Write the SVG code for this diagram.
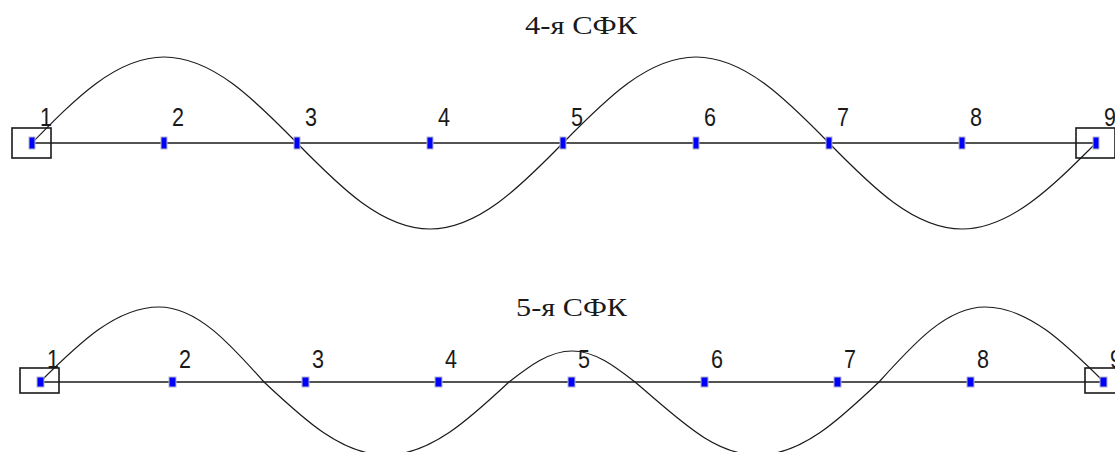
<svg xmlns="http://www.w3.org/2000/svg" width="1115" height="452" viewBox="0 0 1115 452">
<style>
.axis{stroke:#1a1a1a;stroke-width:1.7;fill:none}
.wave{stroke:#1a1a1a;stroke-width:1.2;fill:none}
.box{stroke:#1a1a1a;stroke-width:1.6;fill:none}
.mk{fill:#0000ff;stroke:#b4b4c8;stroke-width:1}
.num{font-family:"Liberation Sans",Arial,sans-serif;font-size:26px;fill:#1a1a1a}
.title{font-family:"Liberation Serif","Times New Roman",serif;font-size:26px;fill:#1a1a1a}
</style>
<rect width="1115" height="452" fill="#ffffff"/>
<text class="title" x="525" y="34" textLength="112" lengthAdjust="spacingAndGlyphs">4-я СФК</text>
<text class="title" x="516" y="316" textLength="111" lengthAdjust="spacingAndGlyphs">5-я СФК</text>
<g id="connectors">
<line class="axis" x1="32" y1="143" x2="1096" y2="143"/>
<line class="axis" x1="40" y1="382" x2="1104" y2="382"/>
<path class="wave" d="M32,143 C75,99 116,57 164,57 C212,57 254,99 297,143 C340,187 382,229 430,229 C478,229 520,187 563,143 C606,99 648,57 696,57 C744,57 786,99 829,143 C872,187 914,229 962,229 C1010,229 1052,187 1096,143"/>
<path class="wave" d="M40,382 C78.8,343.6 115.9,307 159,307 C197,307 229.8,343.6 264,382 C303.8,419.4 341.8,455 386,455 C430.5,455 468.9,419.4 509,382 C529.5,366.1 549.2,351 572,351 C594.8,351 614.5,366.1 635,382 C679.5,419.4 713.5,455 758,455 C801.8,455 839.5,419.4 879,382 C913.6,343.6 946.6,307 985,307 C1028.1,307 1065.2,343.6 1104,382"/>
</g>
<g id="mode4">
<g id="a1"><rect class="box" x="12" y="128" width="39" height="30"/><rect class="mk" x="29" y="137" width="6" height="12"/><text class="num" x="40" y="126" textLength="12" lengthAdjust="spacingAndGlyphs">1</text></g>
<g id="a2"><rect class="mk" x="161" y="137" width="6" height="12"/><text class="num" x="172" y="126" textLength="12" lengthAdjust="spacingAndGlyphs">2</text></g>
<g id="a3"><rect class="mk" x="294" y="137" width="6" height="12"/><text class="num" x="305" y="126" textLength="12" lengthAdjust="spacingAndGlyphs">3</text></g>
<g id="a4"><rect class="mk" x="427" y="137" width="6" height="12"/><text class="num" x="438" y="126" textLength="12" lengthAdjust="spacingAndGlyphs">4</text></g>
<g id="a5"><rect class="mk" x="560" y="137" width="6" height="12"/><text class="num" x="571" y="126" textLength="12" lengthAdjust="spacingAndGlyphs">5</text></g>
<g id="a6"><rect class="mk" x="693" y="137" width="6" height="12"/><text class="num" x="704" y="126" textLength="12" lengthAdjust="spacingAndGlyphs">6</text></g>
<g id="a7"><rect class="mk" x="826" y="137" width="6" height="12"/><text class="num" x="837" y="126" textLength="12" lengthAdjust="spacingAndGlyphs">7</text></g>
<g id="a8"><rect class="mk" x="959" y="137" width="6" height="12"/><text class="num" x="970" y="126" textLength="12" lengthAdjust="spacingAndGlyphs">8</text></g>
<g id="a9"><rect class="box" x="1076" y="128" width="39" height="30"/><rect class="mk" x="1093" y="137" width="6" height="12"/><text class="num" x="1104" y="126" textLength="12" lengthAdjust="spacingAndGlyphs">9</text></g>
</g>
<g id="mode5">
<g id="b1"><rect class="box" x="20" y="368" width="39" height="25"/><rect class="mk" x="37" y="377" width="7" height="10"/><text class="num" x="47" y="368" textLength="12" lengthAdjust="spacingAndGlyphs">1</text></g>
<g id="b2"><rect class="mk" x="169" y="377" width="7" height="10"/><text class="num" x="179" y="368" textLength="12" lengthAdjust="spacingAndGlyphs">2</text></g>
<g id="b3"><rect class="mk" x="302" y="377" width="7" height="10"/><text class="num" x="312" y="368" textLength="12" lengthAdjust="spacingAndGlyphs">3</text></g>
<g id="b4"><rect class="mk" x="435" y="377" width="7" height="10"/><text class="num" x="445" y="368" textLength="12" lengthAdjust="spacingAndGlyphs">4</text></g>
<g id="b5"><rect class="mk" x="568" y="377" width="7" height="10"/><text class="num" x="578" y="368" textLength="12" lengthAdjust="spacingAndGlyphs">5</text></g>
<g id="b6"><rect class="mk" x="701" y="377" width="7" height="10"/><text class="num" x="711" y="368" textLength="12" lengthAdjust="spacingAndGlyphs">6</text></g>
<g id="b7"><rect class="mk" x="834" y="377" width="7" height="10"/><text class="num" x="844" y="368" textLength="12" lengthAdjust="spacingAndGlyphs">7</text></g>
<g id="b8"><rect class="mk" x="967" y="377" width="7" height="10"/><text class="num" x="977" y="368" textLength="12" lengthAdjust="spacingAndGlyphs">8</text></g>
<g id="b9"><rect class="box" x="1085" y="368" width="39" height="25"/><rect class="mk" x="1100" y="377" width="7" height="10"/><text class="num" x="1110" y="368" textLength="12" lengthAdjust="spacingAndGlyphs">9</text></g>
</g>
</svg>
